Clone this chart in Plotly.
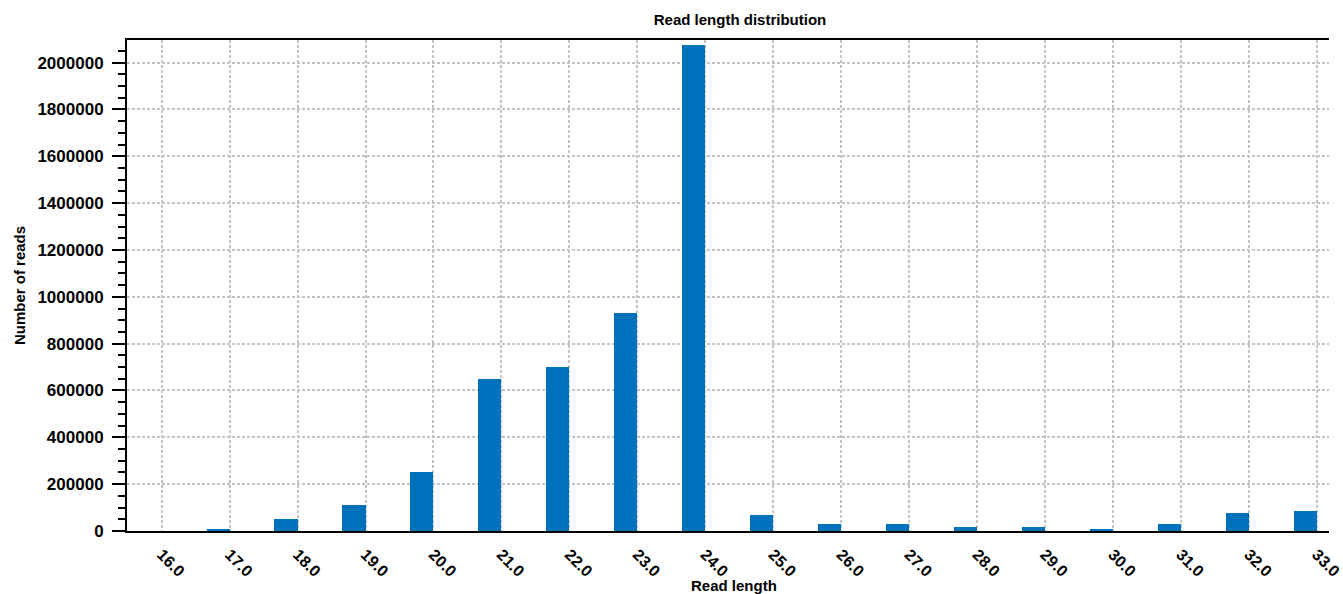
import plotly.graph_objects as go

read_lengths = [16, 17, 18, 19, 20, 21, 22, 23, 24, 25, 26, 27, 28, 29, 30, 31, 32, 33]
num_reads = [0, 8000, 50000, 110000, 251000, 651000, 700000, 931000, 2075000,
             68000, 30000, 30000, 18000, 18000, 7000, 30000, 78000, 84000]
x_tick_labels = [f"{v:.1f}" for v in read_lengths]
y_tick_vals = [0, 200000, 400000, 600000, 800000, 1000000, 1200000, 1400000,
               1600000, 1800000, 2000000]

FONT = "Liberation Sans"
W, H = 1343, 594
ML, MT, MB = 127, 40, 63
PLOT_H = H - MT - MB

fig = go.Figure()
fig.add_trace(go.Bar(
    x=read_lengths,
    y=num_reads,
    width=0.34,
    offset=-0.34,
    marker=dict(color="#0072BD", line=dict(width=0)),
))

fig.update_layout(
    width=W,
    height=H,
    margin=dict(l=ML, r=0, t=MT, b=MB),
    paper_bgcolor="white",
    plot_bgcolor="white",
    showlegend=False,
    bargap=0,
    font=dict(family=FONT, color="black", size=16),
    title=dict(
        text="<b>Read length distribution</b>",
        xref="container", x=740 / W, xanchor="center",
        yref="container", y=1 - 20 / H, yanchor="middle",
        font=dict(family=FONT, size=15, color="black"),
    ),
    xaxis=dict(
        range=[15.49, 33.18],
        tickvals=read_lengths,
        ticktext=[f"<b>{t}</b>" for t in x_tick_labels],
        tickangle=45,
        ticks="",
        ticklabelstandoff=6,
        ticklabeloverflow="allow",
        tickfont=dict(family=FONT, size=16, color="black"),
        showgrid=True,
        gridcolor="#c4c4c4",
        gridwidth=1.5,
        griddash="3px,2px",
        showline=True,
        linecolor="black",
        linewidth=2,
        mirror=True,
        zeroline=False,
    ),
    yaxis=dict(
        range=[0, 2096600],
        tickvals=y_tick_vals,
        ticktext=[f"<b>{v}</b>" for v in y_tick_vals],
        ticks="outside",
        ticklen=13,
        tickwidth=2,
        tickcolor="black",
        ticklabelstandoff=5,
        tickfont=dict(family=FONT, size=17, color="black"),
        minor=dict(dtick=50000, tick0=0, ticks="outside", ticklen=7,
                   tickwidth=2, tickcolor="black", showgrid=False),
        showgrid=True,
        gridcolor="#c4c4c4",
        gridwidth=1.5,
        griddash="3px,2px",
        showline=True,
        linecolor="black",
        linewidth=2,
        mirror=False,
        zeroline=False,
        title=dict(text="<b>Number of reads</b>", standoff=8,
                   font=dict(family=FONT, size=15, color="black")),
    ),
    annotations=[dict(
        text="<b>Read length</b>",
        xref="paper", x=(741 - ML) / (W - ML), xanchor="center",
        yref="paper", y=-(585 - (H - MB)) / PLOT_H, yanchor="middle",
        showarrow=False,
        font=dict(family=FONT, size=15, color="black"),
    )],
)

fig.write_html("out.html", config={"displayModeBar": False},
               post_script="document.body.style.margin='0';")
